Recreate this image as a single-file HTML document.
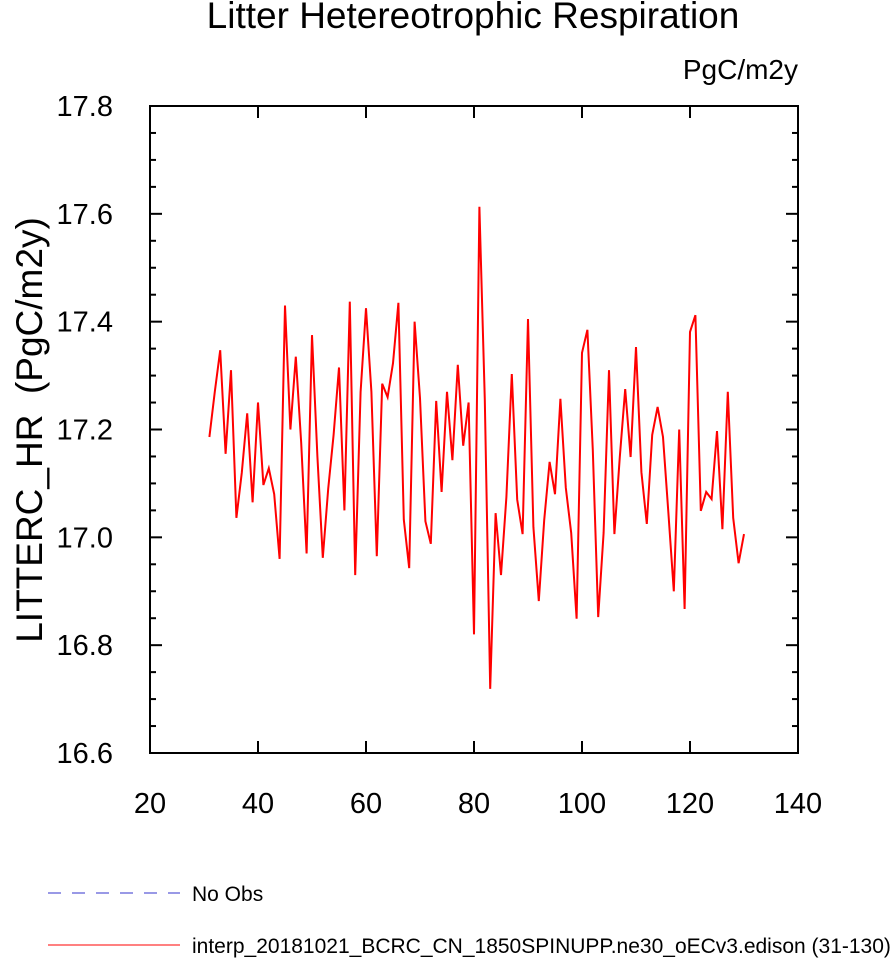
<!DOCTYPE html>
<html><head><meta charset="utf-8"><style>
body{margin:0;background:#fff;}
svg{display:block;font-family:"Liberation Sans",sans-serif;}
</style></head><body>
<svg id="chart" width="896" height="958" xmlns="http://www.w3.org/2000/svg">
<text x="473" y="28" font-size="37" text-anchor="middle">Litter Hetereotrophic Respiration</text>
<text x="798" y="79" font-size="28" text-anchor="end">PgC/m2y</text>
<text transform="translate(42,430) rotate(-90)" font-size="37" text-anchor="middle" xml:space="preserve">LITTERC_HR  (PgC/m2y)</text>
<g id="axes"></g>
<g id="series"></g>
<g>
<line x1="48" y1="893" x2="180" y2="893" stroke="#3333cc" stroke-width="1" stroke-dasharray="13,11"/>
<text x="192" y="901" font-size="21">No Obs</text>
<line x1="48" y1="945" x2="180" y2="945" stroke="#ff0000" stroke-width="1"/>
<text x="192" y="953" font-size="21">interp_20181021_BCRC_CN_1850SPINUPP.ne30_oECv3.edison (31-130)</text>
</g>
</svg>
<script>
const startYear = 31;
const values = [17.186,17.27,17.347,17.155,17.31,17.036,17.12,17.23,17.065,17.25,
17.097,17.128,17.08,16.96,17.43,17.2,17.335,17.175,16.97,17.375,
17.15,16.962,17.09,17.19,17.315,17.05,17.437,16.93,17.27,17.425,
17.27,16.965,17.285,17.26,17.323,17.435,17.033,16.943,17.4,17.258,
17.03,16.988,17.253,17.084,17.27,17.143,17.32,17.17,17.25,16.82,
17.613,17.255,16.719,17.045,16.93,17.075,17.303,17.07,17.006,17.405,
17.019,16.882,17.032,17.14,17.08,17.257,17.092,17.008,16.849,17.342,
17.385,17.162,16.852,17.008,17.31,17.006,17.149,17.275,17.149,17.353,
17.121,17.025,17.19,17.242,17.186,17.045,16.9,17.2,16.867,17.381,
17.412,17.049,17.084,17.071,17.197,17.015,17.27,17.036,16.952,17.006];
const xTicks = [20,40,60,80,100,120,140];
const yTicks = [16.6,16.8,17.0,17.2,17.4,17.6,17.8];
const X0=150,X1=798,Y0=106,Y1=753;
const xMin=20,xMax=140,yMin=16.6,yMax=17.8;
const sx=v=>X0+(v-xMin)/(xMax-xMin)*(X1-X0);
const sy=v=>Y1-(v-yMin)/(yMax-yMin)*(Y1-Y0);
const NS="http://www.w3.org/2000/svg";
const axes=document.getElementById('axes');
function mk(tag,attrs,parent){const e=document.createElementNS(NS,tag);for(const k in attrs)e.setAttribute(k,attrs[k]);parent.appendChild(e);return e;}
const frame=mk('rect',{x:X0,y:Y0,width:X1-X0,height:Y1-Y0,fill:'none',stroke:'#000','stroke-width':2},axes);


xTicks.forEach(t=>{
  const x=sx(t);
  const l1=mk('line',{x1:x,y1:Y1,x2:x,y2:Y1-12,stroke:'#000','stroke-width':2},axes);
  
  
  const l2=mk('line',{x1:x,y1:Y0,x2:x,y2:Y0+12,stroke:'#000','stroke-width':2},axes);
  
  
  const tx=mk('text',{x:x,y:Y1+60,'font-size':29,'text-anchor':'middle'},axes);
  tx.textContent=t;
  
  
});
for(let i=0;i<=24;i++){
  const v=yMin+i*0.05, y=sy(v), major=i%4===0, len=major?12:6;
  const l1=mk('line',{x1:X0,y1:y,x2:X0+len,y2:y,stroke:'#000','stroke-width':2},axes);
  
  
  const l2=mk('line',{x1:X1,y1:y,x2:X1-len,y2:y,stroke:'#000','stroke-width':2},axes);
  
  
}
yTicks.forEach(t=>{
  const tx=mk('text',{x:X0-37,y:sy(t)+10,'font-size':29,'text-anchor':'end'},axes);
  tx.textContent=t.toFixed(1);
  
  
});
const pts=values.map((v,i)=>sx(startYear+i).toFixed(1)+','+sy(v).toFixed(1)).join(' ');
const pl=mk('polyline',{points:pts,fill:'none',stroke:'#ff0000','stroke-width':2,'stroke-linejoin':'miter'},document.getElementById('series'));


</script>
</body></html>
